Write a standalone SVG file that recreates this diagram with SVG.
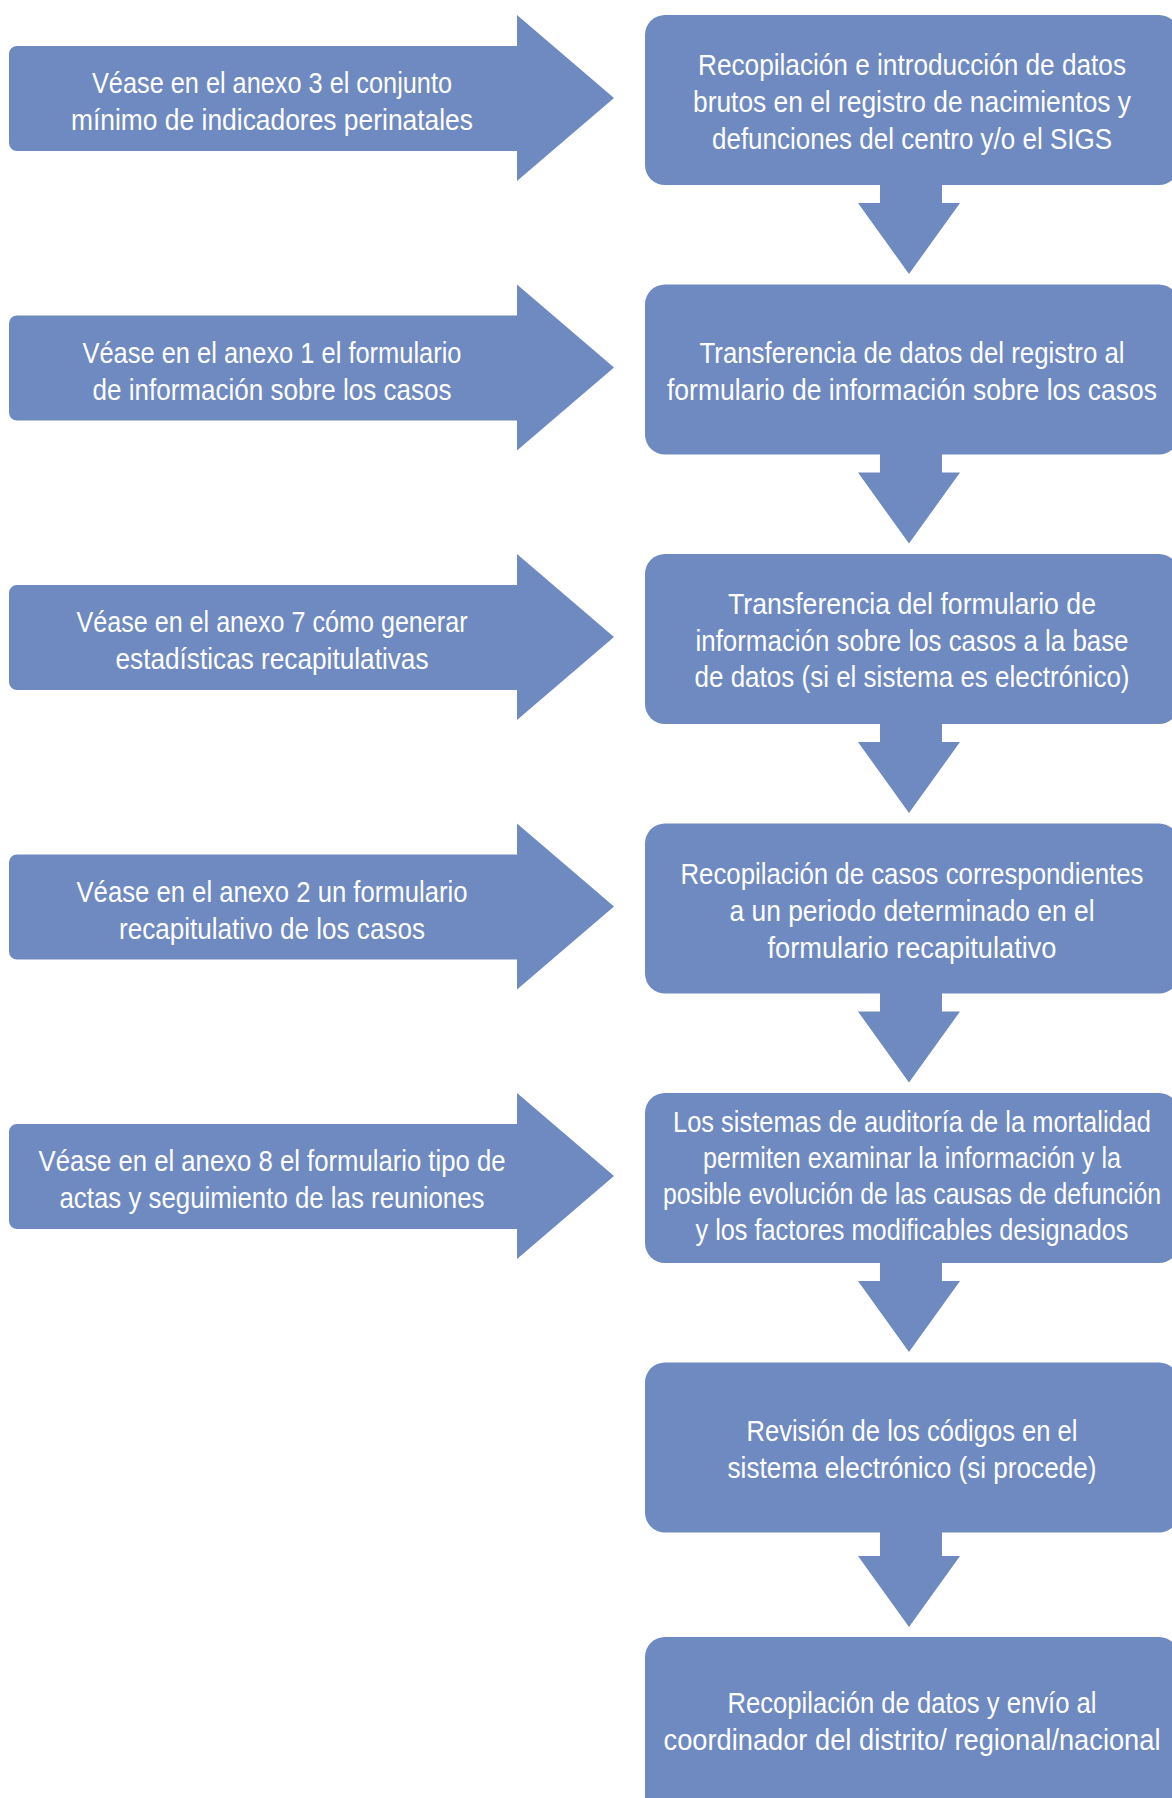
<svg xmlns="http://www.w3.org/2000/svg" width="1172" height="1798" viewBox="0 0 1172 1798">
<style>
.shape{fill:#6F8AC0;}
.t{fill:#FFFFFF;font-family:"Liberation Sans",Arial,sans-serif;font-size:29px;text-anchor:middle;}
</style>
<rect width="1172" height="1798" fill="#FFFFFF"/>
<g id="connectors">
<path class="shape" d="M880 183 H942 V203 H960 L909 274 L858 203 H880 Z"/>
<path class="shape" d="M880 452.5 H942 V472.5 H960 L909 543.5 L858 472.5 H880 Z"/>
<path class="shape" d="M880 722 H942 V742 H960 L909 813 L858 742 H880 Z"/>
<path class="shape" d="M880 991.5 H942 V1011.5 H960 L909 1082.5 L858 1011.5 H880 Z"/>
<path class="shape" d="M880 1261 H942 V1281 H960 L909 1352 L858 1281 H880 Z"/>
<path class="shape" d="M880 1530 H942 V1556 H960 L909 1627 L858 1556 H880 Z"/>
</g>
<g id="ref1">
<path class="shape" d="M17 46 H517 V15 L614 98 L517 181 V151 H17 A8 8 0 0 1 9 143 V54 A8 8 0 0 1 17 46 Z"/>
<text class="t" x="272" y="93" textLength="360" lengthAdjust="spacingAndGlyphs">Véase en el anexo 3 el conjunto</text>
<text class="t" x="272" y="130" textLength="402" lengthAdjust="spacingAndGlyphs">mínimo de indicadores perinatales</text>
</g>
<g id="ref2">
<path class="shape" d="M17 315.5 H517 V284.5 L614 367.5 L517 450.5 V420.5 H17 A8 8 0 0 1 9 412.5 V323.5 A8 8 0 0 1 17 315.5 Z"/>
<text class="t" x="272" y="362.5" textLength="379" lengthAdjust="spacingAndGlyphs">Véase en el anexo 1 el formulario</text>
<text class="t" x="272" y="399.5" textLength="359" lengthAdjust="spacingAndGlyphs">de información sobre los casos</text>
</g>
<g id="ref3">
<path class="shape" d="M17 585 H517 V554 L614 637 L517 720 V690 H17 A8 8 0 0 1 9 682 V593 A8 8 0 0 1 17 585 Z"/>
<text class="t" x="272" y="632" textLength="391" lengthAdjust="spacingAndGlyphs">Véase en el anexo 7 cómo generar</text>
<text class="t" x="272" y="669" textLength="313" lengthAdjust="spacingAndGlyphs">estadísticas recapitulativas</text>
</g>
<g id="ref4">
<path class="shape" d="M17 854.5 H517 V823.5 L614 906.5 L517 989.5 V959.5 H17 A8 8 0 0 1 9 951.5 V862.5 A8 8 0 0 1 17 854.5 Z"/>
<text class="t" x="272" y="901.5" textLength="391" lengthAdjust="spacingAndGlyphs">Véase en el anexo 2 un formulario</text>
<text class="t" x="272" y="938.5" textLength="306" lengthAdjust="spacingAndGlyphs">recapitulativo de los casos</text>
</g>
<g id="ref5">
<path class="shape" d="M17 1124 H517 V1093 L614 1176 L517 1259 V1229 H17 A8 8 0 0 1 9 1221 V1132 A8 8 0 0 1 17 1124 Z"/>
<text class="t" x="272" y="1171" textLength="467" lengthAdjust="spacingAndGlyphs">Véase en el anexo 8 el formulario tipo de</text>
<text class="t" x="272" y="1208" textLength="425" lengthAdjust="spacingAndGlyphs">actas y seguimiento de las reuniones</text>
</g>
<g id="step1">
<rect class="shape" x="645" y="15" width="534" height="170" rx="20"/>
<text class="t" x="912" y="75" textLength="428" lengthAdjust="spacingAndGlyphs">Recopilación e introducción de datos</text>
<text class="t" x="912" y="112" textLength="438" lengthAdjust="spacingAndGlyphs">brutos en el registro de nacimientos y</text>
<text class="t" x="912" y="149" textLength="400" lengthAdjust="spacingAndGlyphs">defunciones del centro y/o el SIGS</text>
</g>
<g id="step2">
<rect class="shape" x="645" y="284.5" width="534" height="170" rx="20"/>
<text class="t" x="912" y="363" textLength="425" lengthAdjust="spacingAndGlyphs">Transferencia de datos del registro al</text>
<text class="t" x="912" y="400" textLength="490" lengthAdjust="spacingAndGlyphs">formulario de información sobre los casos</text>
</g>
<g id="step3">
<rect class="shape" x="645" y="554" width="534" height="170" rx="20"/>
<text class="t" x="912" y="614" textLength="368" lengthAdjust="spacingAndGlyphs">Transferencia del formulario de</text>
<text class="t" x="912" y="650.5" textLength="433" lengthAdjust="spacingAndGlyphs">información sobre los casos a la base</text>
<text class="t" x="912" y="687" textLength="435" lengthAdjust="spacingAndGlyphs">de datos (si el sistema es electrónico)</text>
</g>
<g id="step4">
<rect class="shape" x="645" y="823.5" width="534" height="170" rx="20"/>
<text class="t" x="912" y="883.5" textLength="463" lengthAdjust="spacingAndGlyphs">Recopilación de casos correspondientes</text>
<text class="t" x="912" y="920.5" textLength="365" lengthAdjust="spacingAndGlyphs">a un periodo determinado en el</text>
<text class="t" x="912" y="957.5" textLength="289" lengthAdjust="spacingAndGlyphs">formulario recapitulativo</text>
</g>
<g id="step5">
<rect class="shape" x="645" y="1093" width="534" height="170" rx="20"/>
<text class="t" x="912" y="1132" textLength="478" lengthAdjust="spacingAndGlyphs">Los sistemas de auditoría de la mortalidad</text>
<text class="t" x="912" y="1168" textLength="418" lengthAdjust="spacingAndGlyphs">permiten examinar la información y la</text>
<text class="t" x="912" y="1204" textLength="498" lengthAdjust="spacingAndGlyphs">posible evolución de las causas de defunción</text>
<text class="t" x="912" y="1240" textLength="433" lengthAdjust="spacingAndGlyphs">y los factores modificables designados</text>
</g>
<g id="step6">
<rect class="shape" x="645" y="1362.5" width="534" height="170" rx="20"/>
<text class="t" x="912" y="1441" textLength="331" lengthAdjust="spacingAndGlyphs">Revisión de los códigos en el</text>
<text class="t" x="912" y="1478" textLength="369" lengthAdjust="spacingAndGlyphs">sistema electrónico (si procede)</text>
</g>
<g id="step7">
<rect class="shape" x="645" y="1637" width="534" height="180" rx="20"/>
<text class="t" x="912" y="1713" textLength="369" lengthAdjust="spacingAndGlyphs">Recopilación de datos y envío al</text>
<text class="t" x="912" y="1750" textLength="497" lengthAdjust="spacingAndGlyphs">coordinador del distrito/ regional/nacional</text>
</g>
</svg>
